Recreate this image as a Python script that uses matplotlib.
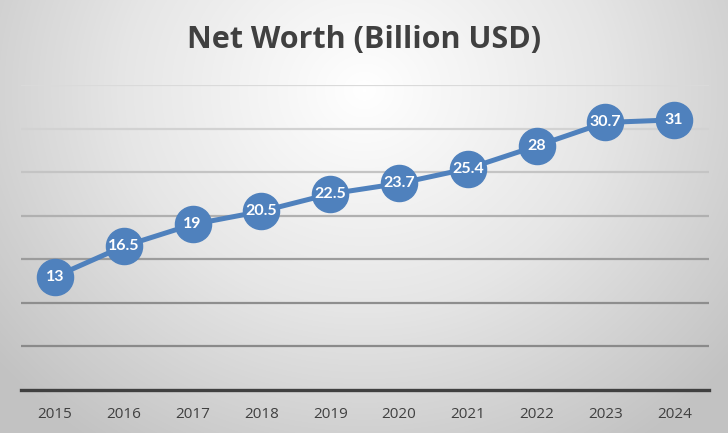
import numpy as np
import matplotlib
matplotlib.use("Agg")
import matplotlib.pyplot as plt
from matplotlib.colors import LinearSegmentedColormap

years = ["2015", "2016", "2017", "2018", "2019", "2020", "2021", "2022", "2023", "2024"]
net_worth = [13, 16.5, 19, 20.5, 22.5, 23.7, 25.4, 28, 30.7, 31]
value_labels = ["13", "16.5", "19", "20.5", "22.5", "23.7", "25.4", "28", "30.7", "31"]

W, H = 728, 433
fig = plt.figure(figsize=(W / 100, H / 100), dpi=100)

# radial gradient background
bg = fig.add_axes([0, 0, 1, 1], zorder=-10)
yy, xx = np.mgrid[0:H, 0:W]
r = np.sqrt(((xx - 364) / 1.0) ** 2 + ((yy - 90) / 0.9) ** 2)
t = np.clip(r / 480, 0, 1)
cmap = LinearSegmentedColormap.from_list("g", ["#ffffff", "#e6e6e6", "#c2c2c2"])
bg.imshow(t, cmap=cmap, vmin=0, vmax=1, aspect="auto", extent=[0, W, H, 0])
bg.axis("off")

ax = fig.add_axes([20.6 / W, (H - 390) / H, 688 / W, 305 / H])
ax.patch.set_alpha(0)
x = np.arange(len(years))
ax.plot(x, net_worth, color="#4f81bd", lw=3.6, marker="o", ms=26,
        markerfacecolor="#4f81bd", markeredgecolor="#4f81bd", zorder=3,
        solid_capstyle="round")
for xi, v, lab in zip(x, net_worth, value_labels):
    ax.text(xi, v, lab, ha="center", va="center", color="white",
            fontsize=11.5, fontweight="bold", family="Lato", zorder=4)

ax.set_xlim(-0.5, len(years) - 0.5)
ax.set_ylim(0, 35)
ax.set_yticks(np.arange(5, 36, 5))
ax.yaxis.grid(True)
grid_cols = ["#8a8a8a", "#8e8e8e", "#9c9c9c", "#b0b0b0", "#c4c4c4", "#d2d2d2", "#dadada"]
for gl, c in zip(ax.yaxis.get_gridlines(), grid_cols):
    gl.set_color(c)
    gl.set_linewidth(1.6)
ax.tick_params(axis="y", left=False, labelleft=False)
ax.set_xticks(x)
ax.set_xticklabels(years, fontsize=11, color="#404040", family="Open Sans")
ax.tick_params(axis="x", length=0, pad=12)
for s in ["top", "left", "right"]:
    ax.spines[s].set_visible(False)
ax.spines["bottom"].set_color("#404040")
ax.spines["bottom"].set_linewidth(2.4)
ax.set_axisbelow(True)

fig.text(0.5, 1 - 40 / H, "Net Worth (Billion USD)", ha="center", va="center",
         fontsize=22, fontweight="bold", color="#404040", family="Open Sans")

fig.savefig("out.png", dpi=100)
